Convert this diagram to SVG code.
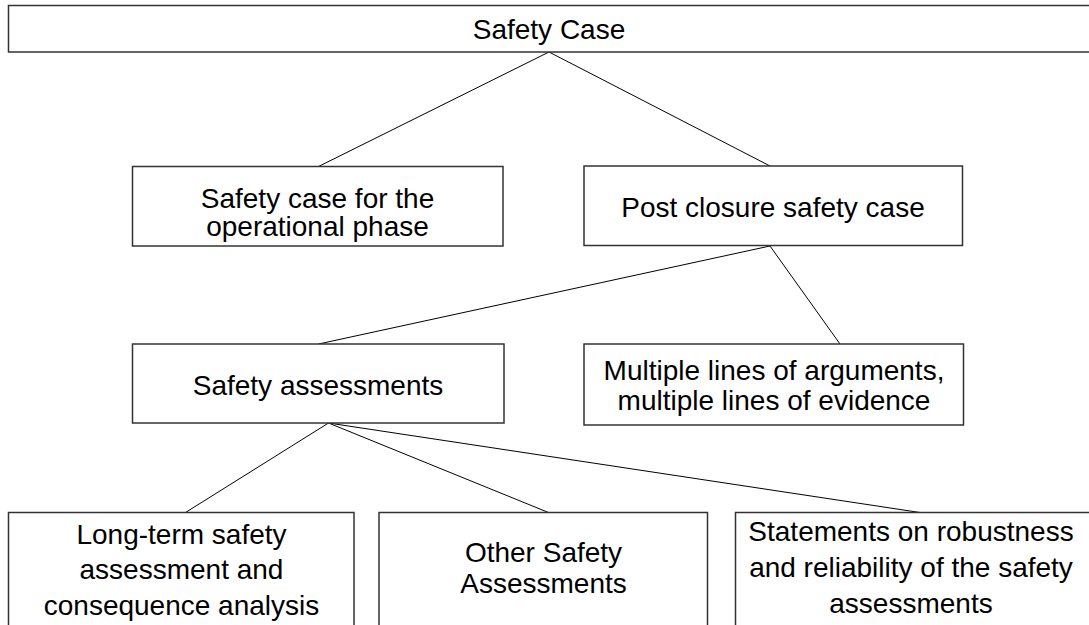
<svg xmlns="http://www.w3.org/2000/svg" width="1089" height="625" viewBox="0 0 1089 625">
<style>
.box{fill:#fff;stroke:#333;stroke-width:1.5}
.t{font-family:"Liberation Sans",Arial,sans-serif;font-size:28px;fill:#000;text-anchor:middle}
.c{stroke:#000;stroke-width:1;fill:none}
</style>
<rect width="1089" height="625" fill="#fff"/>
<g id="connectors">
<line class="c" x1="549" y1="52" x2="318.5" y2="166.5"/>
<line class="c" x1="549" y1="52" x2="770" y2="166"/>
<line class="c" x1="770" y1="246" x2="318.5" y2="344"/>
<line class="c" x1="770" y1="246" x2="840" y2="344"/>
<line class="c" x1="328.5" y1="423" x2="185.5" y2="512.5"/>
<line class="c" x1="328.5" y1="423" x2="548.5" y2="512.5"/>
<line class="c" x1="328.5" y1="423" x2="920" y2="512.5"/>
</g>
<g id="safety-case">
<rect class="box" x="8.5" y="5.5" width="1090" height="46.5"/>
<text class="t" x="549" y="39">Safety Case</text>
</g>
<g id="operational">
<rect class="box" x="132.5" y="166.5" width="370.5" height="79.5"/>
<text class="t" x="317.5" y="207.5">Safety case for the</text>
<text class="t" x="317.5" y="236">operational phase</text>
</g>
<g id="post-closure">
<rect class="box" x="584" y="166" width="378.5" height="79.5"/>
<text class="t" x="773" y="216.5">Post closure safety case</text>
</g>
<g id="safety-assessments">
<rect class="box" x="132.5" y="344" width="371.5" height="79"/>
<text class="t" x="318" y="394.5">Safety assessments</text>
</g>
<g id="multiple-lines">
<rect class="box" x="584" y="344" width="379.5" height="81"/>
<text class="t" x="774" y="380">Multiple lines of arguments,</text>
<text class="t" x="774" y="410">multiple lines of evidence</text>
</g>
<g id="long-term">
<rect class="box" x="8.5" y="512.5" width="345.5" height="130"/>
<text class="t" x="181.5" y="543.5">Long-term safety</text>
<text class="t" x="181.5" y="579">assessment and</text>
<text class="t" x="181.5" y="614.5">consequence analysis</text>
</g>
<g id="other">
<rect class="box" x="379" y="512.5" width="328.5" height="130"/>
<text class="t" x="543.5" y="561.5">Other Safety</text>
<text class="t" x="543.5" y="592.5">Assessments</text>
</g>
<g id="statements">
<rect class="box" x="735.5" y="512.5" width="360" height="130"/>
<text class="t" x="911" y="541">Statements on robustness</text>
<text class="t" x="911" y="577">and reliability of the safety</text>
<text class="t" x="911" y="612.5">assessments</text>
</g>
</svg>
